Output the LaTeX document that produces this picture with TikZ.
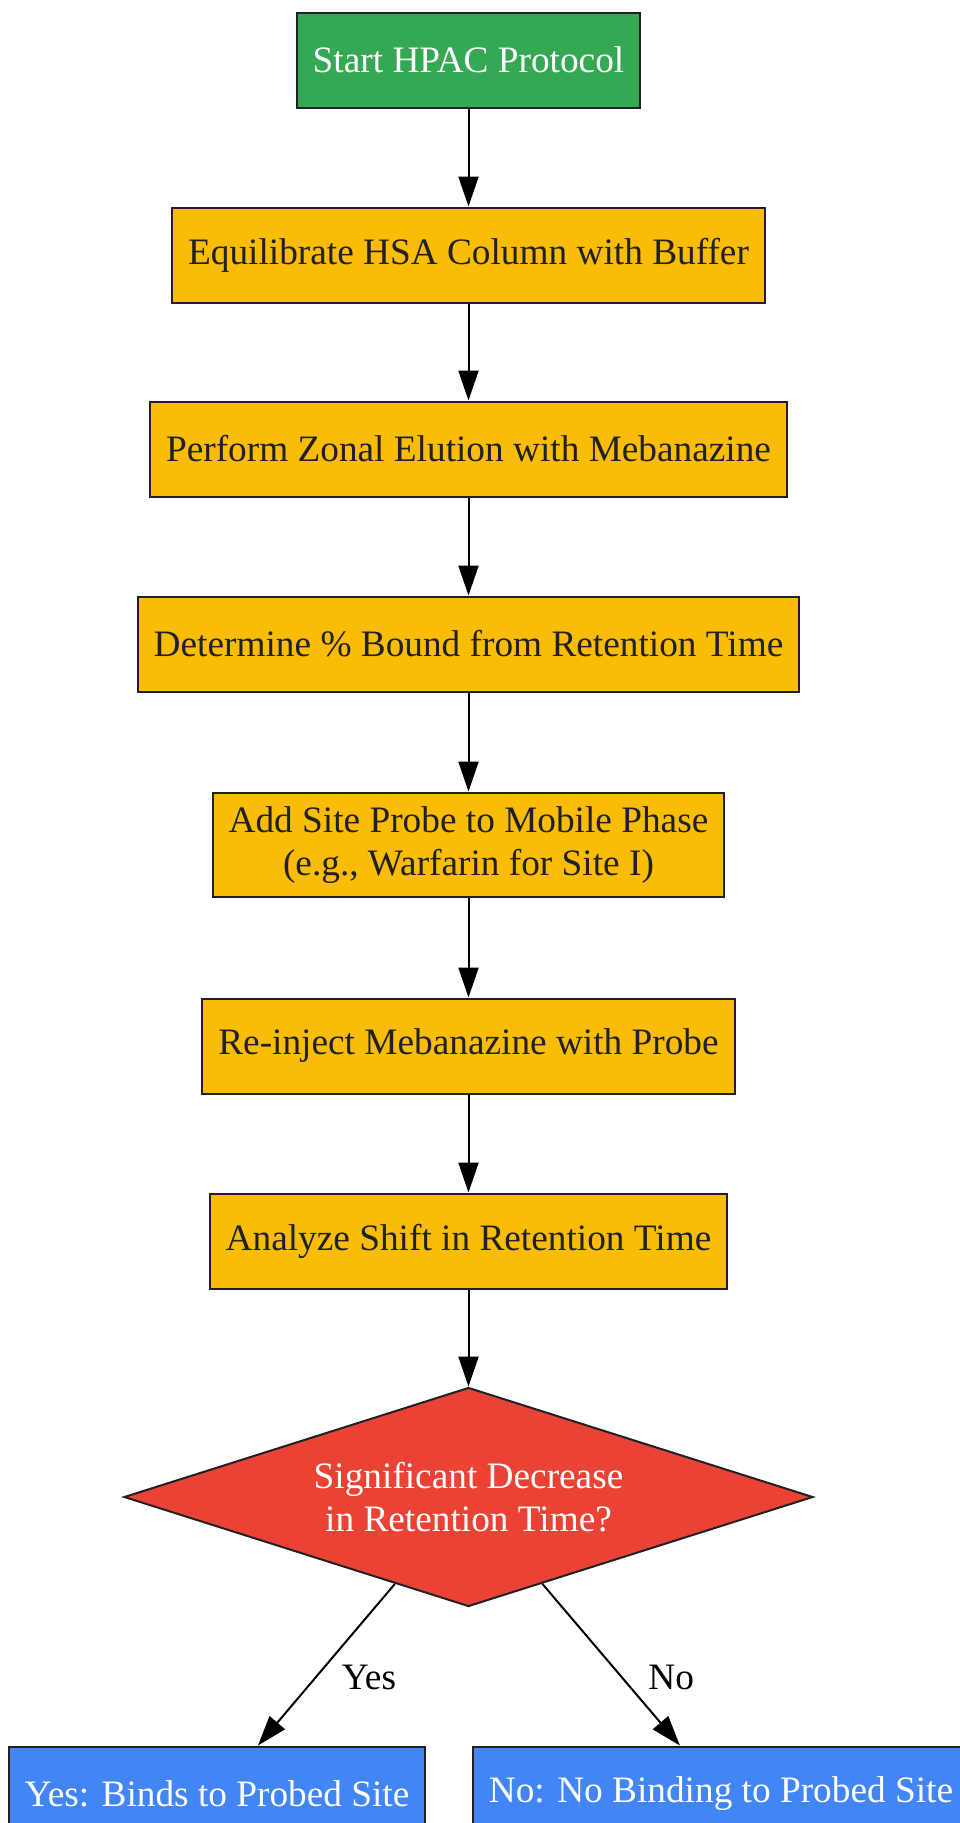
\documentclass[tikz,border=0pt]{standalone}
\usepackage{fontspec}
\setmainfont{Liberation Serif}
\usetikzlibrary{shapes.geometric,arrows.meta}
\definecolor{startgreen}{HTML}{34A853}
\definecolor{stepyellow}{HTML}{FBBC05}
\definecolor{decisionred}{HTML}{EA4335}
\definecolor{resultblue}{HTML}{4285F4}
\definecolor{edgegray}{HTML}{202124}

\tikzset{
  box/.style={rectangle, draw=edgegray, line width=2pt, inner xsep=16pt, inner ysep=14pt,
    minimum height=95pt, align=center, font=\fontsize{37.3}{43}\selectfont},
  startbox/.style={box, fill=startgreen, text=white},
  stepbox/.style={box, fill=stepyellow, text=edgegray},
  resultbox/.style={box, fill=resultblue, text=white},
  decision/.style={diamond, draw=edgegray, line width=2pt, fill=decisionred, text=white,
    shape aspect=3.15, inner sep=0pt, minimum width=689pt, minimum height=219pt,
    align=center, font=\fontsize{37.3}{43}\selectfont},
  flow/.style={draw=black, line width=2pt, -{Triangle[length=30pt,width=20pt]}},
  edgelabel/.style={anchor=west, xshift=22pt, font=\fontsize{37.3}{43}\selectfont}
}

\begin{document}
\begin{tikzpicture}[x=1pt,y=1pt,yscale=-1,xscale=1]
\useasboundingbox (0,0) rectangle (959,1823);

% Start
\node [startbox] (start) at (468.5,60) {Start HPAC Protocol};
% Steps
\node [stepbox] (equil) at (468.5,255) {Equilibrate HSA Column with Buffer};
\node [stepbox] (zonal) at (468.5,449) {Perform Zonal Elution with Mebanazine};
\node [stepbox] (bound) at (468.5,644) {Determine \% Bound from Retention Time};
\node [stepbox] (probe) at (468.5,845) {Add Site Probe to Mobile Phase\\(e.g., Warfarin for Site I)};
\node [stepbox] (reinject) at (468.5,1046) {Re-inject Mebanazine with Probe};
\node [stepbox] (shift) at (468.5,1241) {Analyze Shift in Retention Time};
% Decision
\node [decision] (decrease) at (468.5,1497) {Significant Decrease\\in Retention Time?};
% Results
\node [resultbox] (binds) at (217,1794) {Yes: Binds to Probed Site};
\node [resultbox] (nobind) at (721,1794) {No: No Binding to Probed Site};

% Connectors
\draw [flow] (start) -- (equil);
\draw [flow] (equil) -- (zonal);
\draw [flow] (zonal) -- (bound);
\draw [flow] (bound) -- (probe);
\draw [flow] (probe) -- (reinject);
\draw [flow] (reinject) -- (shift);
\draw [flow] (shift) -- (decrease);
\draw [flow] (decrease) -- node [edgelabel, pos=0.58] {Yes} (binds);
\draw [flow] (decrease) -- node [edgelabel, pos=0.58] {No} (nobind);
\end{tikzpicture}
\end{document}
